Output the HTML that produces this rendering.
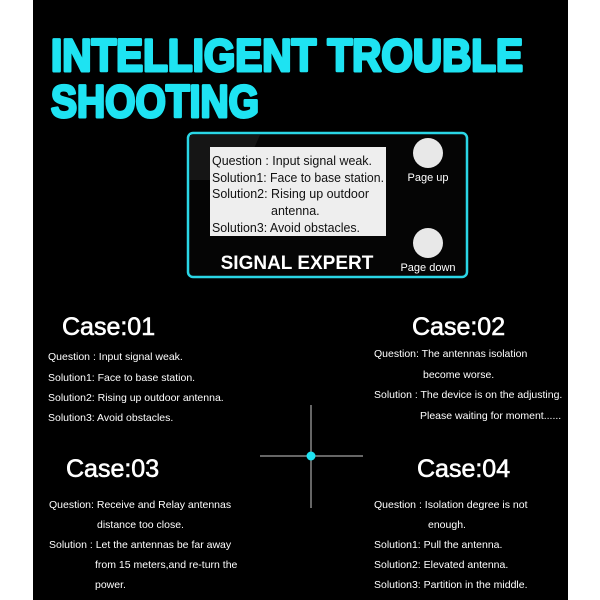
<!DOCTYPE html>
<html><head><style>
html,body{margin:0;padding:0;background:#fff;}
svg{display:block}
text{font-family:"Liberation Sans",sans-serif;}
</style></head><body>
<svg width="600" height="600" viewBox="0 0 600 600" xmlns="http://www.w3.org/2000/svg">
<rect x="0" y="0" width="600" height="600" fill="#fff"/>
<rect x="33" y="0" width="535" height="600" fill="#000"/>
<g fill="#1ee3f2" stroke="#1ee3f2" stroke-width="3" stroke-linejoin="round" font-weight="bold" font-size="45">
<text x="51" y="71" textLength="472" lengthAdjust="spacingAndGlyphs">INTELLIGENT TROUBLE</text>
<text x="51" y="117" textLength="208" lengthAdjust="spacingAndGlyphs">SHOOTING</text>
</g>
<rect x="188" y="133" width="279" height="144" rx="5" fill="#050505" stroke="#2ad6e6" stroke-width="2.5"/>
<polygon points="190,135 260,135 240,180 190,180" fill="#151515"/>
<rect x="210" y="147" width="176" height="89" fill="#eeeeee"/>
<g font-size="12.5" fill="#111">
<text x="212" y="165" textLength="160" lengthAdjust="spacingAndGlyphs">Question : Input signal weak.</text>
<text x="212" y="182" textLength="172" lengthAdjust="spacingAndGlyphs">Solution1: Face to base station.</text>
<text x="212" y="198" textLength="157" lengthAdjust="spacingAndGlyphs">Solution2: Rising up outdoor</text>
<text x="271" y="215">antenna.</text>
<text x="212" y="232" textLength="148" lengthAdjust="spacingAndGlyphs">Solution3: Avoid obstacles.</text>
</g>
<circle cx="428" cy="153" r="15" fill="#e8e8e8"/>
<circle cx="428" cy="243" r="15" fill="#e8e8e8"/>
<g fill="#fff" font-size="11" text-anchor="middle">
<text x="428" y="181">Page up</text>
<text x="428" y="271">Page down</text>
</g>
<text x="297" y="269" fill="#fff" font-size="19" font-weight="bold" text-anchor="middle">SIGNAL EXPERT</text>

<g fill="#fff" stroke="#fff" stroke-width="0.6" font-size="25">
<text x="62" y="335">Case:01</text>
<text x="412" y="335">Case:02</text>
<text x="66" y="477">Case:03</text>
<text x="417" y="477">Case:04</text>
</g>
<g fill="#fff" font-size="10.5">
<text x="48" y="360">Question : Input signal weak.</text>
<text x="48" y="381">Solution1: Face to base station.</text>
<text x="48" y="401">Solution2: Rising up outdoor antenna.</text>
<text x="48" y="421">Solution3: Avoid obstacles.</text>

<text x="374" y="357">Question: The antennas isolation</text>
<text x="423" y="378">become worse.</text>
<text x="374" y="398">Solution : The device is on the adjusting.</text>
<text x="420" y="419">Please waiting for moment......</text>

<text x="49" y="508">Question: Receive and Relay antennas</text>
<text x="97" y="528">distance too close.</text>
<text x="49" y="548">Solution : Let the antennas be far away</text>
<text x="95" y="568">from 15 meters,and re-turn the</text>
<text x="95" y="588">power.</text>

<text x="374" y="508">Question :  Isolation degree is not</text>
<text x="428" y="528">enough.</text>
<text x="374" y="548">Solution1:  Pull the antenna.</text>
<text x="374" y="568">Solution2:  Elevated antenna.</text>
<text x="374" y="588">Solution3:  Partition in the middle.</text>
</g>
<line x1="260" y1="456" x2="363" y2="456" stroke="#ccc" stroke-width="1"/>
<line x1="311" y1="405" x2="311" y2="508" stroke="#ccc" stroke-width="1"/>
<circle cx="311" cy="456" r="4.5" fill="#1ee3f2"/>
</svg>
</body></html>
